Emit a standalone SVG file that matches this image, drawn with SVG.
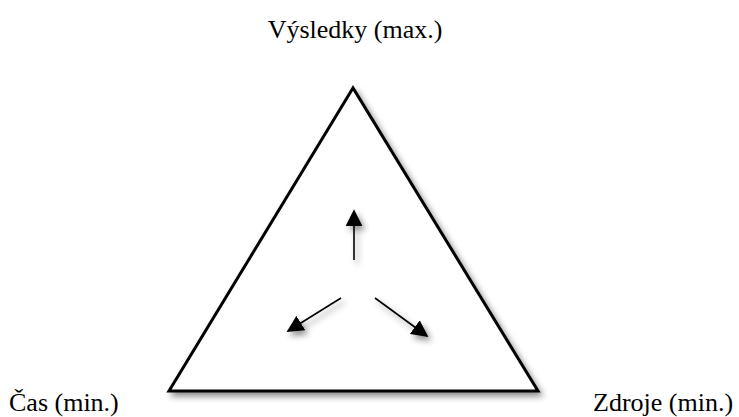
<svg xmlns="http://www.w3.org/2000/svg" width="739" height="417" viewBox="0 0 739 417">
<style>
.lbl{font-family:"Liberation Serif","Times New Roman",serif;font-size:26px;fill:#000}
.tri{fill:#fff;stroke:#000;stroke-width:3;stroke-linejoin:miter}
.arr{stroke:#000;stroke-width:1.6;fill:none}
</style>
<defs>
<filter id="sh" x="-20%" y="-20%" width="140%" height="140%">
<feDropShadow dx="3" dy="4" stdDeviation="3" flood-color="#000" flood-opacity="0.45"/>
</filter>
<marker id="ah" viewBox="0 0 10 10" refX="9" refY="5" markerWidth="10.5" markerHeight="10.5" markerUnits="strokeWidth" orient="auto">
<path d="M0,0 L10,5 L0,10 Z" fill="#000"/>
</marker>
</defs>
<rect width="739" height="417" fill="#fff"/>
<g id="triangle" filter="url(#sh)">
<polygon class="tri" points="353,88 169,391 538,391"/>
</g>
<g id="connectors" filter="url(#sh)">
<line class="arr" x1="354" y1="260" x2="354" y2="211" marker-end="url(#ah)"/>
<line class="arr" x1="341" y1="298" x2="288" y2="331" marker-end="url(#ah)"/>
<line class="arr" x1="375" y1="298" x2="427" y2="336" marker-end="url(#ah)"/>
</g>
<g id="label-vysledky"><text class="lbl" x="355" y="38" text-anchor="middle">Výsledky (max.)</text></g>
<g id="label-cas"><text class="lbl" x="9" y="411">Čas (min.)</text></g>
<g id="label-zdroje"><text class="lbl" x="593" y="411">Zdroje (min.)</text></g>
</svg>
